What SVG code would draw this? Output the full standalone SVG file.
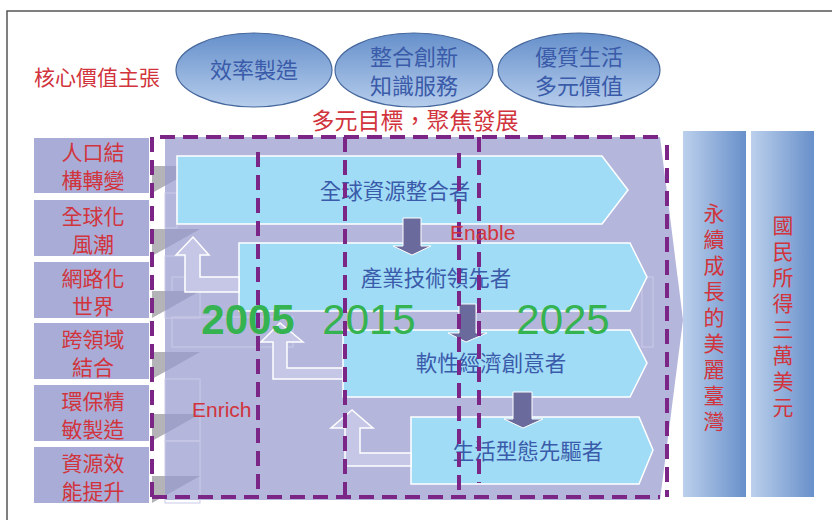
<svg xmlns="http://www.w3.org/2000/svg" width="832" height="520" viewBox="0 0 832 520">
<defs>
<linearGradient id="ellG" x1="0" y1="0" x2="0" y2="1">
<stop offset="0" stop-color="#6690cb"/>
<stop offset="1" stop-color="#b6cdec"/>
</linearGradient>
<linearGradient id="colG" x1="0" y1="0" x2="1" y2="0">
<stop offset="0" stop-color="#bcd0ec"/>
<stop offset="1" stop-color="#6890ca"/>
</linearGradient>
<style>
.cjk{font-family:"Noto Sans CJK TC","Noto Sans CJK SC",sans-serif;}
.lat{font-family:"Liberation Sans",Arial,sans-serif;}
.red{fill:#d1343c;}
.blue{fill:#3a5ba9;}
.ell{fill:url(#ellG);stroke:#45679c;stroke-width:1.2;}
.lbox{fill:#a9acd7;}
.bar{fill:#a1dcf7;stroke:#ffffff;stroke-width:1.5;}
.down{fill:#6a6a9d;stroke:#ffffff;stroke-width:1;}
.up{fill:#c6c7e6;stroke:#ffffff;stroke-width:1.5;}
.dash{fill:none;stroke:#7b2586;stroke-width:4;stroke-dasharray:15 8;}
.yr{font-family:"Liberation Sans",Arial,sans-serif;font-size:42px;fill:#34b350;}
.faint{fill:none;stroke:#c9cae8;stroke-width:1;}
.gw{fill:#b4b4b8;}
.gl{fill:#9fa1c8;}
.col{fill:url(#colG);}
.vert{writing-mode:vertical-rl;letter-spacing:5px;font-size:21px;}
.dl{font-size:21px;text-anchor:middle;}
</style>
</defs>
<rect x="0" y="0" width="832" height="520" fill="#ffffff"/>
<path d="M7,520 L7,11 L832,11" fill="none" stroke="#555555" stroke-width="1.5"/>

<g id="core-label">
<text class="cjk red" x="97" y="85" font-size="21" text-anchor="middle">核心價值主張</text>
</g>
<g id="value1">
<ellipse class="ell" cx="254" cy="70" rx="78" ry="37"/>
<text class="cjk blue" x="254" y="78" font-size="22" text-anchor="middle">效率製造</text>
</g>
<g id="value2">
<ellipse class="ell" cx="414" cy="70" rx="79" ry="37"/>
<text class="cjk blue" font-size="22" text-anchor="middle"><tspan x="414" y="65">整合創新</tspan><tspan x="414" dy="29">知識服務</tspan></text>
</g>
<g id="value3">
<ellipse class="ell" cx="579" cy="70" rx="81" ry="37"/>
<text class="cjk blue" font-size="22" text-anchor="middle"><tspan x="579" y="65">優質生活</tspan><tspan x="579" dy="29">多元價值</tspan></text>
</g>
<g id="goal">
<text class="cjk red" x="415" y="129" font-size="23" text-anchor="middle">多元目標，聚焦發展</text>
</g>

<g id="main-area">
<polygon points="165,137 660,137 683,320 660,500 165,500" fill="#b4b6dc"/>
<rect class="faint" x="165" y="193" width="12" height="35"/>
<rect class="faint" x="165" y="256" width="35" height="62"/>
<rect class="faint" x="172" y="277" width="13" height="15"/>
<rect class="faint" x="172" y="317" width="121" height="30"/>
<rect class="faint" x="165" y="379" width="35" height="62"/>
<rect class="faint" x="165" y="441" width="35" height="62"/>
<rect class="faint" x="642" y="277" width="11" height="70"/>
</g>

<g id="drivers">
<g id="d1"><rect class="lbox" x="34" y="138" width="115" height="55"/>
<text class="cjk red dl"><tspan x="93" y="160">人口結</tspan><tspan x="93" dy="28">構轉變</tspan></text>
<polygon class="gw" points="152,166 165,166 165,185.7 152,193"/><polygon class="gl" points="165,166 200,166 165,185.7"/></g>
<g id="d2"><rect class="lbox" x="34" y="200" width="115" height="56"/>
<text class="cjk red dl"><tspan x="93" y="223.5">全球化</tspan><tspan x="93" dy="28">風潮</tspan></text>
<polygon class="gw" points="152,229 165,229 165,248.7 152,256"/><polygon class="gl" points="165,229 200,229 165,248.7"/></g>
<g id="d3"><rect class="lbox" x="34" y="262" width="115" height="56"/>
<text class="cjk red dl"><tspan x="93" y="285.5">網路化</tspan><tspan x="93" dy="28">世界</tspan></text>
<polygon class="gw" points="152,291 165,291 165,310.7 152,318"/><polygon class="gl" points="165,291 200,291 165,310.7"/></g>
<g id="d4"><rect class="lbox" x="34" y="323" width="115" height="56"/>
<text class="cjk red dl"><tspan x="93" y="346.5">跨領域</tspan><tspan x="93" dy="28">結合</tspan></text>
<polygon class="gw" points="152,352 165,352 165,371.7 152,379"/><polygon class="gl" points="165,352 200,352 165,371.7"/></g>
<g id="d5"><rect class="lbox" x="34" y="385" width="115" height="56"/>
<text class="cjk red dl"><tspan x="93" y="408.5">環保精</tspan><tspan x="93" dy="28">敏製造</tspan></text>
<polygon class="gw" points="152,414 165,414 165,433.7 152,441"/><polygon class="gl" points="165,414 200,414 165,433.7"/></g>
<g id="d6"><rect class="lbox" x="34" y="447" width="115" height="56"/>
<text class="cjk red dl"><tspan x="93" y="470.5">資源效</tspan><tspan x="93" dy="28">能提升</tspan></text>
<polygon class="gw" points="152,476 165,476 165,495.7 152,503"/><polygon class="gl" points="165,476 200,476 165,495.7"/></g>
</g>

<g id="bar1">
<polygon class="bar" points="177,156 602,156 628,190 602,224 177,224"/>
<text class="cjk blue" x="395" y="199" font-size="21.5" text-anchor="middle">全球資源整合者</text>
</g>
<g id="bar2">
<polygon class="bar" points="239,243 630,243 647,277 630,311 239,311"/>
<text class="cjk blue" x="436" y="286" font-size="21.5" text-anchor="middle">產業技術領先者</text>
</g>
<g id="bar3">
<polygon class="bar" points="343,330 630,330 647,363 630,397 343,397"/>
<text class="cjk blue" x="491" y="371" font-size="21.5" text-anchor="middle">軟性經濟創意者</text>
</g>
<g id="bar4">
<polygon class="bar" points="411,417 639,417 653,450 639,484 411,484"/>
<text class="cjk blue" x="528" y="459" font-size="21.5" text-anchor="middle">生活型態先驅者</text>
</g>

<g id="connectors">
<polygon class="down" points="403,218 421,218 421,246 431,246 412,255 393,246 403,246"/>
<polygon class="down" points="459,304 476,304 476,333 487,333 466,342 448,333 459,333"/>
<polygon class="down" points="513,392 532,392 532,419 543,419 523,428 504,419 513,419"/>
<polygon class="up" points="239,277 200,277 200,255 209,255 193,237 176,255 185,255 185,292 239,292"/>
<polygon class="up" points="343,368 287,368 287,342 303,342 280,323 261,342 273,342 273,379 343,379"/>
<polygon class="up" points="411,453 360,453 360,428 373,428 352,410 331,428 345,428 345,466 411,466"/>
</g>

<g id="years">
<text class="yr" x="248" y="334" text-anchor="middle" font-weight="bold">2005</text>
<text class="yr" x="369" y="334" text-anchor="middle">2015</text>
<text class="yr" x="563" y="334" text-anchor="middle">2025</text>
</g>

<g id="periods">
<path class="dash" d="M152,497 L152,137 L660,137"/>
<path class="dash" d="M152,497 L660,497"/>
<path class="dash" d="M667,145 L667,497"/>
<path class="dash" d="M258,152 L258,497"/>
<path class="dash" d="M345,137 L345,497"/>
<path class="dash" d="M459,153 L459,497"/>
<path class="dash" d="M479,137 L479,483"/>
</g>

<g id="labels">
<text class="lat red" x="450" y="240" font-size="21">Enable</text>
<text class="lat red" x="192" y="417" font-size="21">Enrich</text>
</g>

<g id="outcome1">
<rect class="col" x="683" y="131" width="63" height="366"/>
<text class="cjk red vert" x="714" y="203">永續成長的美麗臺灣</text>
</g>
<g id="outcome2">
<rect class="col" x="751" y="131" width="63" height="366"/>
<text class="cjk red vert" x="783" y="215">國民所得三萬美元</text>
</g>
</svg>
